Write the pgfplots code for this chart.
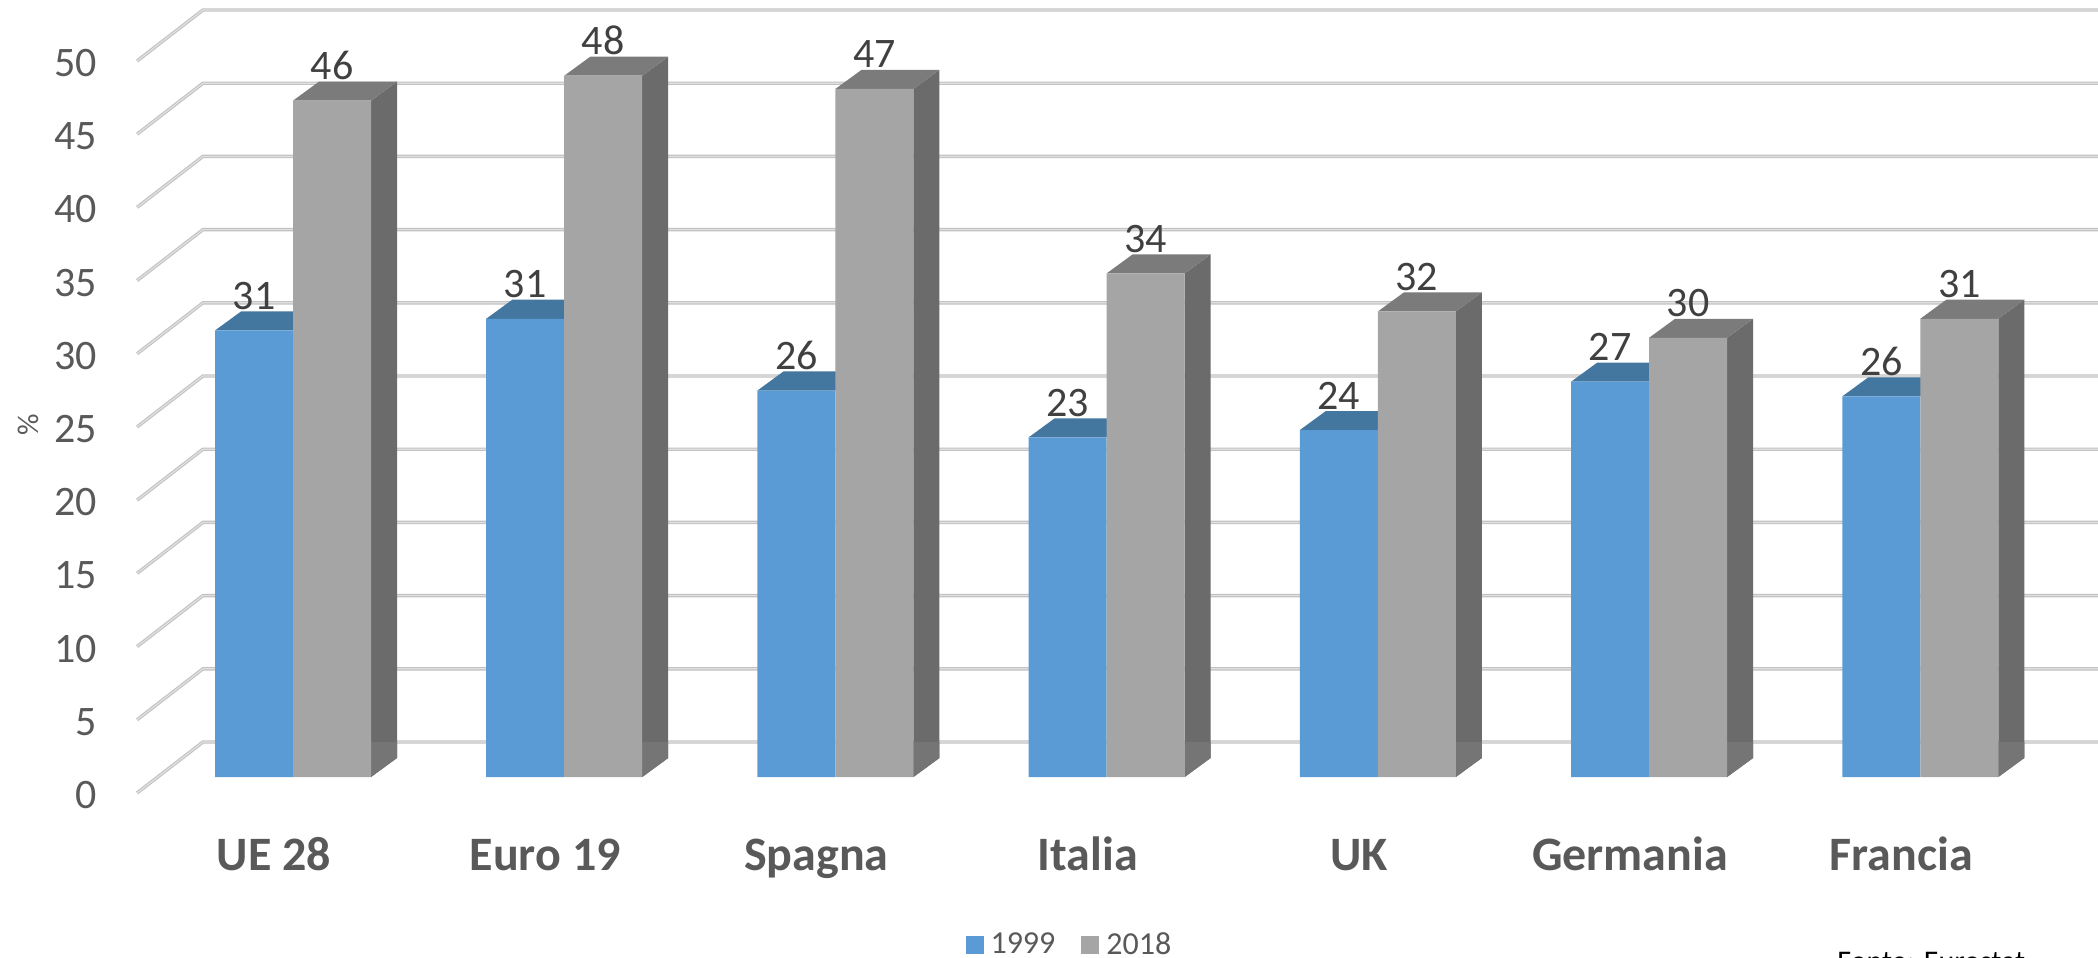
\documentclass[border=0pt]{standalone}
\usepackage{pgfplots}
\usepackage{fontspec}
\setmainfont{Carlito}
\pgfplotsset{compat=1.18}
\definecolor{blu}{HTML}{5B9BD5}
\definecolor{blutop}{HTML}{44779F}
\definecolor{gri}{HTML}{A5A5A5}
\definecolor{gritop}{HTML}{7B7B7B}
\definecolor{griside}{HTML}{6B6B6B}
\definecolor{grifoot}{HTML}{757575}
\definecolor{griglia}{HTML}{C2C2C2}
\definecolor{griglia2}{HTML}{E0E0E0}
\definecolor{testo}{HTML}{595959}
\definecolor{etich}{HTML}{404040}
% 1 px of the reference = 0.5pt; x=i is the middle of a pair, 271.2 px apart
% y=0 is the front foot of the bars, 14.64 px per unit
\newcommand{\topface}[3]{% left edge, value, colour
  \addplot[fill=#3,draw=none,forget plot] coordinates {({#1},{#2}) ({#1+0.0959},{#2+1.3}) ({#1+0.3835},{#2+1.3}) ({#1+0.2876},{#2})} --cycle;
}
\newcommand{\sideface}[2]{% right edge, value
  \addplot[fill=griside,draw=none,forget plot] coordinates {({#1},0) ({#1+0.0959},1.3) ({#1+0.0959},{#2+1.3}) ({#1},{#2})} --cycle;
  \addplot[fill=grifoot,draw=none,forget plot] coordinates {({#1},0) ({#1+0.0959},1.3) ({#1+0.0959},2.39) ({#1},2.39)} --cycle;
}
\pgfplotsset{
  etichetta/.style={nodes near coords,
    nodes near coords style={anchor=base,inner sep=0pt,xshift=#1,yshift=10.5pt,text=etich,
        font=\fontsize{21}{25}\selectfont,
        /pgf/number format/assume math mode=true,/pgf/number format/precision=0,/pgf/number format/fixed}},
  quadratino/.style={legend image code/.code={\fill[##1] (0pt,-4.5pt) rectangle (9pt,4.5pt);}},
}
\begin{document}
\begin{tikzpicture}
\useasboundingbox (0,0) rectangle (1049pt,479pt);
\clip (0,0) rectangle (1049pt,479pt);
\begin{axis}[
    scale only axis,
    width=1049pt,
    height=479pt,
    clip=false,
    xmin=-1.0804, xmax=6.6556,
    ymin=-12.363, ymax=53.074,
    axis line style={draw=none},
    tick style={draw=none},
    major tick length=0pt,
    xtick={0,1,2,3,4,5,6},
    xticklabels={UE 28,Euro 19,Spagna,Italia,UK,Germania,Francia},
    xticklabel style={anchor=base,inner sep=0pt,xshift=-9.5pt,yshift=43.8pt,text=testo,
        font=\fontsize{24}{28}\selectfont\bfseries},
    ytick={0,5,...,50},
    yticklabel style={anchor=east,inner sep=0pt,xshift=48.5pt,yshift=-9pt,text=testo,
        font=\fontsize{21}{25}\selectfont,/pgf/number format/assume math mode=true},
    ylabel={\%},
    ylabel style={at={(axis description cs:0.0133,0.5564)},anchor=center,text=testo,
        font=\fontsize{15}{18}\selectfont},
    legend style={at={(axis description cs:0.46,0.0136)},anchor=west,draw=none,fill=none,
        inner sep=0pt,legend columns=2,text=testo,font=\fontsize{16}{18}\selectfont,
        /tikz/every odd column/.append style={column sep=1.5pt},
        /tikz/every even column/.append style={column sep=11pt}},
]
% griglia di fondo
\pgfplotsinvokeforeach{0,5,...,50}{
  \addplot[griglia,line width=1.7pt,forget plot] coordinates {(-0.575,{#1-1.09}) (-0.332,{#1+2.39}) (6.6556,{#1+2.39})};
  \addplot[griglia2,line width=0.6pt,forget plot] coordinates {(-0.575,{#1-1.09}) (-0.332,{#1+2.39}) (6.6556,{#1+2.39})};
}
% 1999: facce superiori
\topface{-0.2876}{30.5}{blutop}
\topface{0.7124}{31.3}{blutop}
\topface{1.7124}{26.4}{blutop}
\topface{2.7124}{23.2}{blutop}
\topface{3.7124}{23.7}{blutop}
\topface{4.7124}{27.0}{blutop}
\topface{5.7124}{26.0}{blutop}
\addplot[ybar,bar width=39pt,bar shift=-19.5pt,fill=blu,draw=none,quadratino,etichetta=-19.5pt]
  coordinates {(0,30.5) (1,31.3) (2,26.4) (3,23.2) (4,23.7) (5,27.0) (6,26.0)};
% 2018: fianchi e facce superiori
\sideface{0.2876}{46.2}
\sideface{1.2876}{47.9}
\sideface{2.2876}{47.0}
\sideface{3.2876}{34.4}
\sideface{4.2876}{31.8}
\sideface{5.2876}{30.0}
\sideface{6.2876}{31.3}
\topface{0}{46.2}{gritop}
\topface{1}{47.9}{gritop}
\topface{2}{47.0}{gritop}
\topface{3}{34.4}{gritop}
\topface{4}{31.8}{gritop}
\topface{5}{30.0}{gritop}
\topface{6}{31.3}{gritop}
\addplot[ybar,bar width=39pt,bar shift=19.5pt,fill=gri,draw=none,quadratino,etichetta=19.5pt]
  coordinates {(0,46.2) (1,47.9) (2,47.0) (3,34.4) (4,31.8) (5,30.0) (6,31.3)};
\legend{1999,2018}
\node[anchor=base west,inner sep=0pt,text=black,font=\fontsize{15}{17}\selectfont]
  at (rel axis cs:0.8756,-0.0136) {Fonte: Eurostat};
\end{axis}
\end{tikzpicture}
\end{document}
